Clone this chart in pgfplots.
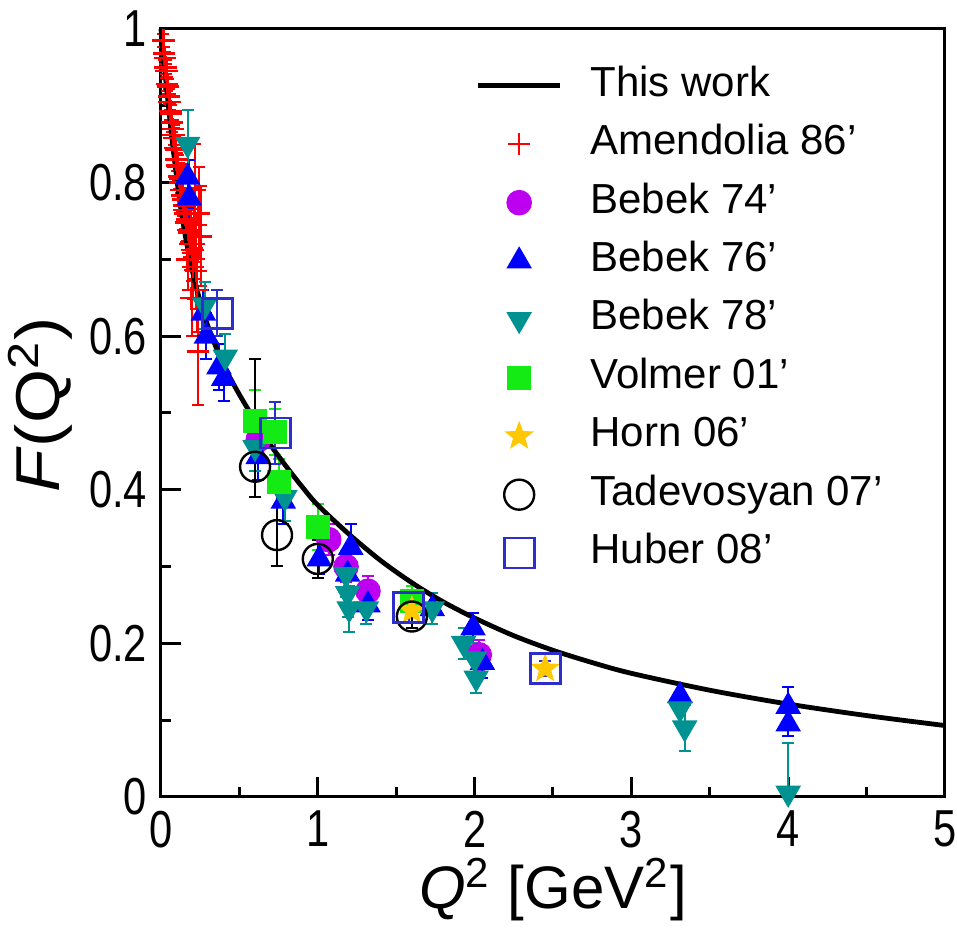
\documentclass[border=0pt]{standalone}
\usepackage{fontspec}
\setmainfont{Liberation Sans}
\newfontfamily\tickfont{Liberation Sans}[FakeStretch=0.8]
\newfontfamily\ylabfont{Liberation Sans}[FakeStretch=1.12]
\usepackage{pgfplots}
\pgfplotsset{compat=1.18}
\usepackage{pgfplotstable}

\definecolor{amred}{RGB}{255,0,0}
\definecolor{bbA}{RGB}{190,0,240}
\definecolor{bbB}{RGB}{0,0,255}
\definecolor{bbC}{RGB}{0,145,145}
\definecolor{volgreen}{RGB}{20,235,20}
\definecolor{horngold}{RGB}{255,200,0}
\definecolor{hubblue}{RGB}{45,45,205}

% filled five-pointed star
\pgfdeclareplotmark{fstar}{%
  \pgfpathmoveto{\pgfpointpolar{90}{\pgfplotmarksize}}%
  \pgfpathlineto{\pgfpointpolar{126}{0.42\pgfplotmarksize}}%
  \pgfpathlineto{\pgfpointpolar{162}{\pgfplotmarksize}}%
  \pgfpathlineto{\pgfpointpolar{198}{0.42\pgfplotmarksize}}%
  \pgfpathlineto{\pgfpointpolar{234}{\pgfplotmarksize}}%
  \pgfpathlineto{\pgfpointpolar{270}{0.42\pgfplotmarksize}}%
  \pgfpathlineto{\pgfpointpolar{306}{\pgfplotmarksize}}%
  \pgfpathlineto{\pgfpointpolar{342}{0.42\pgfplotmarksize}}%
  \pgfpathlineto{\pgfpointpolar{18}{\pgfplotmarksize}}%
  \pgfpathlineto{\pgfpointpolar{54}{0.42\pgfplotmarksize}}%
  \pgfpathclose
  \pgfusepathqfillstroke}

\pgfplotsset{
  lineleg/.style={legend image code/.code={\draw[##1] (0pt,0pt) -- (20.5pt,0pt);}},
  mleg/.style={legend image code/.code={\draw[##1] plot coordinates {(10.25pt,0pt)}; \path (0pt,0pt) (20.5pt,0pt);}},
}

% Amendolia 86
\pgfplotstableread{
q f e
0.015 0.985 0.008
0.020 0.968 0.008
0.025 0.962 0.008
0.030 0.950 0.009
0.035 0.945 0.009
0.040 0.928 0.009
0.045 0.925 0.010
0.050 0.912 0.010
0.055 0.905 0.010
0.060 0.893 0.011
0.065 0.890 0.011
0.070 0.878 0.012
0.075 0.870 0.012
0.080 0.862 0.013
0.085 0.858 0.013
0.090 0.845 0.014
0.095 0.843 0.014
0.100 0.830 0.015
0.105 0.822 0.016
0.110 0.820 0.016
0.115 0.808 0.017
0.120 0.800 0.018
0.125 0.805 0.019
0.130 0.790 0.020
0.135 0.783 0.021
0.140 0.778 0.022
0.145 0.770 0.023
0.150 0.764 0.024
0.155 0.760 0.025
0.160 0.748 0.026
0.165 0.752 0.028
0.170 0.700 0.040
0.175 0.738 0.030
0.180 0.735 0.032
0.185 0.720 0.034
0.190 0.735 0.036
0.195 0.650 0.050
0.200 0.712 0.040
0.205 0.690 0.042
0.210 0.720 0.045
0.215 0.790 0.060
0.220 0.745 0.048
0.225 0.685 0.050
0.230 0.660 0.055
0.235 0.580 0.070
0.240 0.760 0.060
0.253 0.730 0.065
}\amendolia

% Bebek 74
\pgfplotstableread{
q f e
0.62 0.465 0.03
1.07 0.335 0.02
1.18 0.300 0.02
1.32 0.268 0.02
2.03 0.185 0.02
}\bebekA

% Bebek 76
\pgfplotstableread{
q f e
0.17 0.807 0.04
0.18 0.780 0.05
0.27 0.630 0.03
0.29 0.600 0.03
0.37 0.560 0.03
0.40 0.545 0.03
0.62 0.443 0.03
0.78 0.385 0.03
1.01 0.310 0.02
1.21 0.325 0.03
1.19 0.290 0.02
1.32 0.250 0.02
1.73 0.245 0.02
1.99 0.220 0.02
2.05 0.175 0.02
3.31 0.132 0.015
4.00 0.118 0.025
4.00 0.095 0.015
}\bebekB

% Bebek 78 (upper and lower errors)
\pgfplotstableread{
q f ep em
0.17 0.850 0.045 0.045
0.28 0.640 0.03 0.03
0.41 0.573 0.03 0.03
0.60 0.455 0.03 0.03
0.79 0.390 0.03 0.03
1.18 0.290 0.03 0.03
1.19 0.265 0.03 0.03
1.20 0.245 0.03 0.03
1.31 0.245 0.02 0.02
1.73 0.245 0.02 0.02
1.93 0.200 0.02 0.02
2.00 0.180 0.02 0.02
2.01 0.155 0.02 0.02
3.31 0.115 0.02 0.02
3.34 0.090 0.03 0.03
4.00 0.005 0.065 0.0
}\bebekC

% Volmer 01
\pgfplotstableread{
q f e
0.60 0.490 0.04
0.73 0.475 0.03
0.75 0.410 0.03
1.00 0.352 0.03
1.60 0.255 0.02
}\volmer

% Horn 06
\pgfplotstableread{
q f e
1.60 0.243 0.01
2.45 0.167 0.01
}\horn

% Tadevosyan 07
\pgfplotstableread{
q f ep em
0.60 0.430 0.140 0.040
0.74 0.341 0.080 0.040
1.00 0.310 0.025 0.025
1.60 0.235 0.015 0.015
}\tadev

% Huber 08
\pgfplotstableread{
q f e
0.36 0.630 0.03
0.73 0.474 0.04
1.58 0.247 0.02
2.45 0.167 0.01
}\huber

% model curve
\pgfplotstableread{
q f
0.00 1.000
0.02 0.955
0.05 0.895
0.08 0.840
0.12 0.775
0.16 0.725
0.20 0.685
0.25 0.645
0.31 0.607
0.40 0.562
0.50 0.524
0.60 0.490
0.70 0.458
0.80 0.430
0.90 0.404
1.00 0.380
1.20 0.342
1.40 0.308
1.60 0.279
1.80 0.254
2.00 0.233
2.25 0.210
2.50 0.191
2.75 0.175
3.00 0.161
3.50 0.139
4.00 0.121
4.50 0.106
5.00 0.093
}\curve

\begin{document}
\begin{tikzpicture}
\path[use as bounding box] (-40.25pt,-33pt) rectangle (199pt,199.25pt);
\begin{axis}[
  scale only axis, width=196pt, height=192pt,
  xmin=0, xmax=5, ymin=0, ymax=1,
  xtick={0,1,2,3,4,5}, ytick={0,0.2,0.4,0.6,0.8,1},
  minor x tick num=1, minor y tick num=1,
  tick pos=left, tick align=inside,
  major tick length=5pt, minor tick length=2.6pt,
  axis line style={line width=0.75pt},
  every tick/.style={black, line width=0.75pt},
  /pgf/number format/assume math mode=true,
  ticklabel style={font=\tickfont\fontsize{13}{13}\selectfont},
  xlabel={\textit{Q}\textsuperscript{2} [GeV\textsuperscript{2}]},
  ylabel={\textit{F}(Q\textsuperscript{2})},
  xlabel style={font=\fontsize{15}{15}\selectfont, at={(axis description cs:0.5,-0.121)}, anchor=center},
  ylabel style={font=\ylabfont\fontsize{15.5}{15.5}\selectfont, at={(axis description cs:-0.154,0.51)}, anchor=center},
  clip=false,
  error bars/y dir=both, error bars/y explicit,
  error bars/error bar style={line width=0.5pt},
  error bars/error mark options={rotate=90, mark size=1.5pt, line width=0.5pt},
  legend cell align=left,
  legend style={at={(axis description cs:0.4005,0.953)}, anchor=north west,
    draw=none, fill=none, inner sep=0pt, row sep=4.6pt,
    font=\fontsize{10.5}{10.5}\selectfont,
    nodes={inner sep=0pt, text height=7.6pt, text depth=2.4pt},
    /tikz/every odd column/.append style={column sep=7pt}},
]
\addlegendimage{black, line width=1.2pt, lineleg}
\addlegendentry{This work}

\addplot[amred, only marks, mark=+, mark size=2.8pt, mark options={line width=0.6pt}, mleg]
  table[x=q, y=f, y error=e]{\amendolia};
\addlegendentry{Amendolia 86'}

\addplot[bbA, only marks, mark=*, mark size=3pt, mleg]
  table[x=q, y=f, y error=e]{\bebekA};
\addlegendentry{Bebek 74'}

\addplot[bbB, only marks, mark=triangle*, mark size=3.3pt, mleg]
  table[x=q, y=f, y error=e]{\bebekB};
\addlegendentry{Bebek 76'}

\addplot[bbC, only marks, mark=triangle*, mark size=3.3pt, mark options={rotate=180}, mleg]
  table[x=q, y=f, y error plus=ep, y error minus=em]{\bebekC};
\addlegendentry{Bebek 78'}

\addplot[volgreen, only marks, mark=square*, mark size=2.8pt, mleg]
  table[x=q, y=f, y error=e]{\volmer};
\addlegendentry{Volmer 01'}

\addplot[horngold, only marks, mark=fstar, mark size=3.3pt, mleg]
  table[x=q, y=f, y error=e]{\horn};
\addlegendentry{Horn 06'}

\addplot[black, only marks, mark=o, mark size=3.75pt, mark options={line width=0.6pt}, mleg]
  table[x=q, y=f, y error plus=ep, y error minus=em]{\tadev};
\addlegendentry{Tadevosyan 07'}

\addplot[hubblue, only marks, mark=square, mark size=3.75pt, mark options={line width=0.7pt}, mleg]
  table[x=q, y=f, y error=e]{\huber};
\addlegendentry{Huber 08'}

\addplot[black, line width=1.2pt, smooth, forget plot] table[x=q, y=f]{\curve};
\end{axis}
\end{tikzpicture}
\end{document}
